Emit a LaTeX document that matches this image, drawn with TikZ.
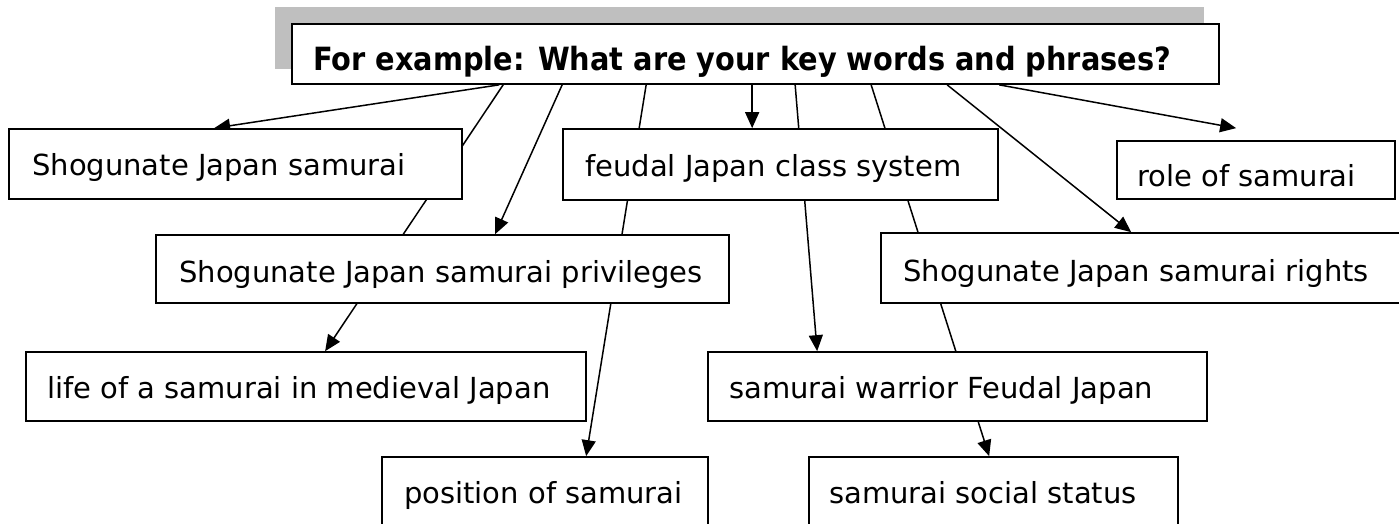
\documentclass[tikz,border=0pt]{standalone}
\usepackage{fontspec}
\setmainfont{DejaVu Sans}
\newfontfamily\titlefont[FakeStretch=0.9]{DejaVu Sans}
\usetikzlibrary{arrows.meta}
\pgfdeclarelayer{bg}
\pgfsetlayers{bg,main}
\begin{document}
\begin{tikzpicture}[x=1pt,y=-1pt,
  box/.style={draw=black, line width=1.7pt, fill=white, rectangle, inner sep=0pt},
  lbl/.style={anchor=base west, inner sep=0pt, font=\fontsize{29}{34}\selectfont},
  ttl/.style={anchor=base west, inner sep=0pt, font=\titlefont\bfseries\fontsize{32}{38}\selectfont},
  conn/.style={line width=1.5pt},
  arr/.style={conn, -{Triangle[length=16pt,width=14pt]}}]
\useasboundingbox (0,0) rectangle (1399,524);
% boxes
\node[box, minimum width=927pt, minimum height=60pt] (title) at (755.5,54) {};
\node[box, minimum width=453pt, minimum height=70pt] (shog) at (235.5,164) {};
\node[box, minimum width=435pt, minimum height=71pt] (feudal) at (780.5,164.5) {};
\node[box, minimum width=278pt, minimum height=58pt] (role) at (1256,170) {};
\node[box, minimum width=573pt, minimum height=68pt] (priv) at (442.5,269) {};
\node[box, minimum width=521pt, minimum height=70pt] (rights) at (1141.5,268) {};
\node[box, minimum width=560pt, minimum height=69pt] (life) at (306,386.5) {};
\node[box, minimum width=499pt, minimum height=69pt] (warrior) at (957.5,386.5) {};
\node[box, minimum width=326pt, minimum height=83pt] (position) at (545,498.5) {};
\node[box, minimum width=369pt, minimum height=83pt] (social) at (993.5,498.5) {};
% texts
\node[ttl] (titlet) at (313,71) {For example: What are your key words and phrases?};
\node[lbl] (shogt) at (32,175) {Shogunate Japan samurai};
\node[lbl] (feudalt) at (585,176) {feudal Japan class system};
\node[lbl] (rolet) at (1137,186) {role of samurai};
\node[lbl] (privt) at (179,282) {Shogunate Japan samurai privileges};
\node[lbl] (rightst) at (903,281) {Shogunate Japan samurai rights};
\node[lbl] (lifet) at (47,398) {life of a samurai in medieval Japan};
\node[lbl] (warriort) at (729,398) {samurai warrior Feudal Japan};
\node[lbl] (positiont) at (404,503) {position of samurai};
\node[lbl] (socialt) at (829,503) {samurai social status};
\begin{pgfonlayer}{bg}
\fill[white] (0,0) rectangle (1399,524);
\fill[black!25] (275,7) rectangle (1204,69);
\draw[arr] ([xshift=208pt]title.south west) -- ([xshift=206pt]shog.north west);
\draw[arr] ([xshift=212pt]title.south west) -- ([xshift=300pt]life.north west);
\draw[arr] ([xshift=271pt]title.south west) -- ([xshift=340pt]priv.north west);
\draw[arr] ([xshift=355pt]title.south west) -- ([xshift=205pt]position.north west);
\draw[arr] ([xshift=461pt]title.south west) -- ([xshift=190pt]feudal.north west);
\draw[arr] ([xshift=504pt]title.south west) -- ([xshift=110pt]warrior.north west);
\draw[arr] ([xshift=580pt]title.south west) -- ([xshift=181pt]social.north west);
\draw[arr] ([xshift=656pt]title.south west) -- ([xshift=251pt]rights.north west);
\draw[arr] ([xshift=708pt]title.south west) -- ([xshift=120pt,yshift=12pt]role.north west);
\end{pgfonlayer}
\end{tikzpicture}
\end{document}
